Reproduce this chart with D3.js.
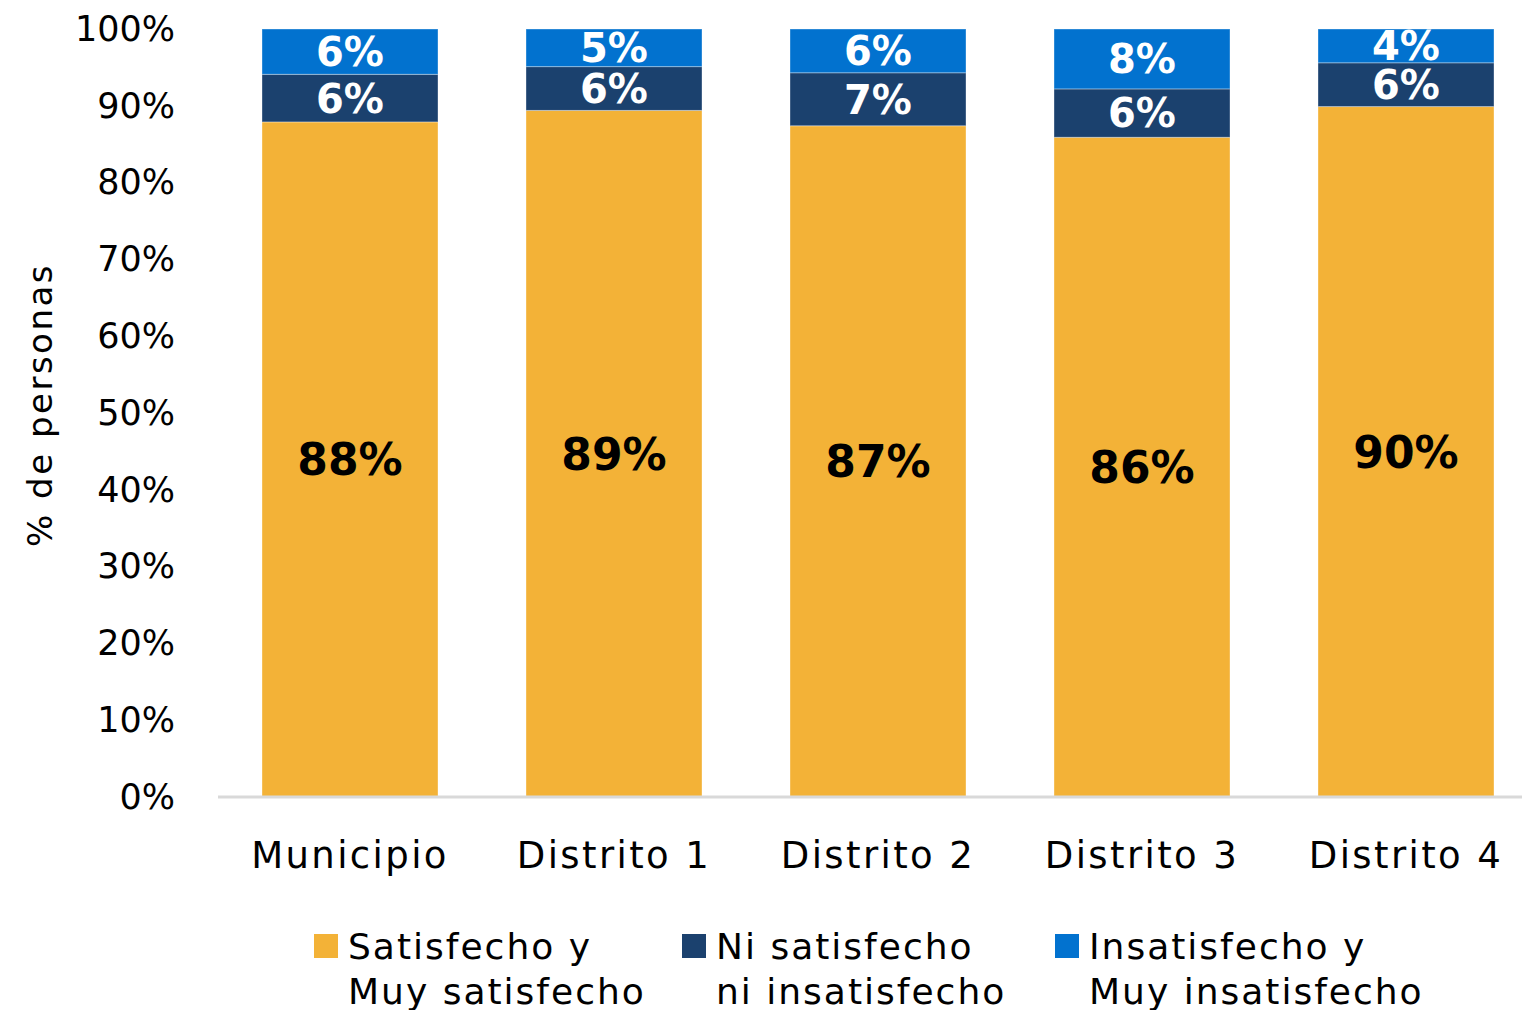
<!DOCTYPE html>
<html>
<head>
<meta charset="utf-8">
<script src="https://cdn.jsdelivr.net/npm/d3@7"></script>
<style>
  body { margin: 0; background: #fff; }
  svg { display: block; font-family: "DejaVu Sans", sans-serif; }
</style>
</head>
<body>
<svg id="chart" width="1522" height="1010"></svg>
<script>
var categories = ["Municipio", "Distrito 1", "Distrito 2", "Distrito 3", "Distrito 4"]
var satisfecho = [87.9, 89.4, 87.4, 85.9, 89.9]
var niNi = [6.2, 5.7, 6.9, 6.3, 5.7]
var insatisfecho = [5.9, 4.9, 5.7, 7.8, 4.4]
var labelsSat = ["88%", "89%", "87%", "86%", "90%"]
var labelsNi = ["6%", "6%", "7%", "6%", "6%"]
var labelsIns = ["6%", "5%", "6%", "8%", "4%"]
var yTicks = [0, 10, 20, 30, 40, 50, 60, 70, 80, 90, 100]
var seriesNames = ["Satisfecho y|Muy satisfecho", "Ni satisfecho|ni insatisfecho", "Insatisfecho y|Muy insatisfecho"]
var colors = ["#F3B237", "#1B416E", "#0272CF"]

var svg = d3.select("#chart")

var x = d3.scaleBand()
    .domain(categories)
    .range([218, 1538])
    .paddingInner(1 / 3)
    .paddingOuter(1 / 6)

var y = d3.scaleLinear()
    .domain([0, 100])
    .range([797, 29])

var rows = categories.map((c, i) => ({
    cat: c, sat: satisfecho[i], ni: niNi[i], ins: insatisfecho[i],
    lab: [labelsSat[i], labelsNi[i], labelsIns[i]]
}))
var keys = ["sat", "ni", "ins"]
var stacked = d3.stack().keys(keys)(rows)

// y axis labels
var yAxis = d3.axisLeft(y)
    .tickValues(yTicks)
    .tickFormat(d => d + "%")
    .tickSize(0)
    .tickPadding(0)
svg.append("g")
    .attr("transform", "translate(175,0)")
    .call(yAxis)
    .call(g => g.select(".domain").remove())
    .selectAll("text")
    .attr("font-family", "DejaVu Sans, sans-serif")
    .attr("font-size", 35)
    .attr("fill", "#000")

svg.append("text")
    .attr("transform", "translate(52,405) rotate(-90)")
    .attr("text-anchor", "middle")
    .attr("font-size", 34)
    .attr("letter-spacing", 2.5)
    .text("% de personas")

// bars
var layers = svg.append("g")
    .selectAll("g")
    .data(stacked)
    .join("g")
    .attr("fill", (d, i) => colors[i])

layers.selectAll("rect")
    .data(d => d)
    .join("rect")
    .attr("x", d => x(d.data.cat))
    .attr("width", x.bandwidth())
    .attr("y", d => y(d[1]))
    .attr("height", d => y(d[0]) - y(d[1]))
    .attr("stroke", "rgba(255,255,255,0.35)")
    .attr("stroke-width", 1)

// x axis line
svg.append("line")
    .attr("x1", 218).attr("x2", 1522)
    .attr("y1", 797).attr("y2", 797)
    .attr("stroke", "#d9d9d9")
    .attr("stroke-width", 3)

// segment labels
layers.each(function (layer, li) {
    d3.select(this).selectAll("text")
        .data(layer)
        .join("text")
        .attr("x", d => x(d.data.cat) + x.bandwidth() / 2)
        .attr("y", d => y((d[0] + d[1]) / 2))
        .attr("dy", "0.36em")
        .attr("text-anchor", "middle")
        .attr("font-weight", "bold")
        .attr("font-size", li == 0 ? 44 : 40)
        .attr("fill", li == 0 ? "#000" : "#fff")
        .text(d => d.data.lab[li])
})

// categories
svg.append("g")
    .selectAll("text")
    .data(categories)
    .join("text")
    .attr("x", d => x(d) + x.bandwidth() / 2)
    .attr("y", 868)
    .attr("text-anchor", "middle")
    .attr("font-size", 37)
    .attr("letter-spacing", 2.4)
    .text(d => d)

// legend
var legendX = [314, 682, 1055]
var legend = svg.append("g")
    .selectAll("g")
    .data(seriesNames)
    .join("g")
    .attr("transform", (d, i) => `translate(${legendX[i]},934)`)
legend.append("rect")
    .attr("width", 24).attr("height", 24)
    .attr("fill", (d, i) => colors[i])
legend.append("text")
    .attr("font-size", 36)
    .attr("letter-spacing", 2)
    .selectAll("tspan")
    .data(d => d.split("|"))
    .join("tspan")
    .attr("x", 34)
    .attr("y", (d, i) => 25 + i * 45)
    .text(d => d)
</script>
</body>
</html>
